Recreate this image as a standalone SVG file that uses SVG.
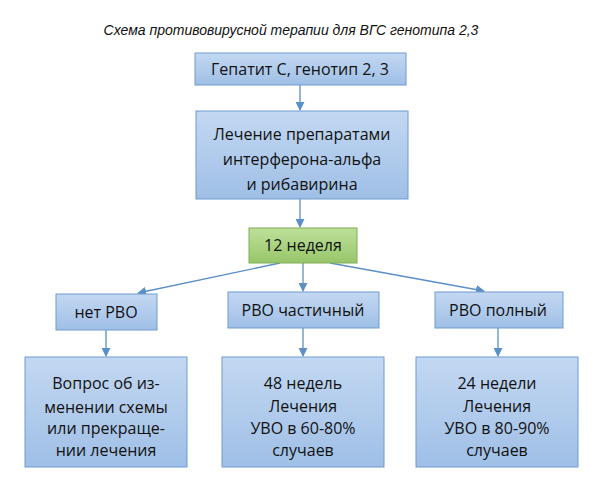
<svg xmlns="http://www.w3.org/2000/svg" width="600" height="487" viewBox="0 0 600 487">
<style>
.b{fill:#a9c6ea;stroke:#6f9cd0;stroke-width:1}
.g{fill:#a6cf7c;stroke:#7fae54;stroke-width:1}
text{font-family:"Open Sans","Liberation Sans",sans-serif;font-size:16px;fill:#111;text-anchor:middle}
.c line{stroke:#5b8fc8;stroke-width:1.3;marker-end:url(#a)}
</style>
<defs>
<linearGradient id="bg" x1="0" y1="0" x2="0" y2="1"><stop offset="0" stop-color="#c3d8f2"/><stop offset="1" stop-color="#9fbfe6"/></linearGradient>
<linearGradient id="gg" x1="0" y1="0" x2="0" y2="1"><stop offset="0" stop-color="#bde09a"/><stop offset="1" stop-color="#98c66a"/></linearGradient>
<marker id="a" viewBox="0 0 10 10" refX="9" refY="5" markerWidth="9" markerHeight="9" orient="auto" markerUnits="userSpaceOnUse"><path d="M0,0L10,5L0,10z" fill="#5b8fc8"/></marker>
</defs>
<rect width="600" height="487" fill="#fff"/>
<text x="291" y="35" style="font-family:'Liberation Sans',sans-serif;font-style:italic;font-size:14px">Схема противовирусной терапии для ВГС генотипа 2,3</text>
<g class="c">
<line x1="300" y1="85" x2="300" y2="110"/>
<line x1="300" y1="199" x2="300" y2="227"/>
<line x1="280" y1="263" x2="138" y2="293"/>
<line x1="303" y1="263" x2="303" y2="291"/>
<line x1="330" y1="263" x2="484" y2="291"/>
<line x1="106" y1="330" x2="106" y2="356"/>
<line x1="303" y1="328" x2="303" y2="356"/>
<line x1="498" y1="328" x2="498" y2="356"/>
</g>
<g id="n1"><rect class="b" style="fill:url(#bg)" x="195" y="53" width="211" height="32"/><text x="300" y="75">Гепатит С, генотип 2, 3</text></g>
<g id="n2"><rect class="b" style="fill:url(#bg)" x="196" y="111" width="212" height="88"/><text x="302" y="140">Лечение препаратами</text><text x="302" y="165">интерферона-альфа</text><text x="302" y="190">и рибавирина</text></g>
<g id="n3"><rect class="g" style="fill:url(#gg)" x="249" y="228" width="108" height="35"/><text x="303" y="251">12 неделя</text></g>
<g id="n4"><rect class="b" style="fill:url(#bg)" x="56" y="294" width="101" height="36"/><text x="106" y="318">нет РВО</text></g>
<g id="n5"><rect class="b" style="fill:url(#bg)" x="228" y="292" width="151" height="36"/><text x="303" y="316">РВО частичный</text></g>
<g id="n6"><rect class="b" style="fill:url(#bg)" x="435" y="292" width="128" height="36"/><text x="498" y="316">РВО полный</text></g>
<g id="n7"><rect class="b" style="fill:url(#bg)" x="25" y="357" width="162" height="110"/><text x="106" y="389">Вопрос об из-</text><text x="106" y="413">менении  схемы</text><text x="106" y="434">или прекраще-</text><text x="106" y="456">нии лечения</text></g>
<g id="n8"><rect class="b" style="fill:url(#bg)" x="222" y="357" width="162" height="110"/><text x="303" y="389">48 недель</text><text x="303" y="412">Лечения</text><text x="303" y="434">УВО в 60-80%</text><text x="303" y="456">случаев</text></g>
<g id="n9"><rect class="b" style="fill:url(#bg)" x="416" y="357" width="162" height="110"/><text x="497" y="389">24 недели</text><text x="497" y="412">Лечения</text><text x="497" y="434">УВО в 80-90%</text><text x="497" y="456">случаев</text></g>
</svg>
